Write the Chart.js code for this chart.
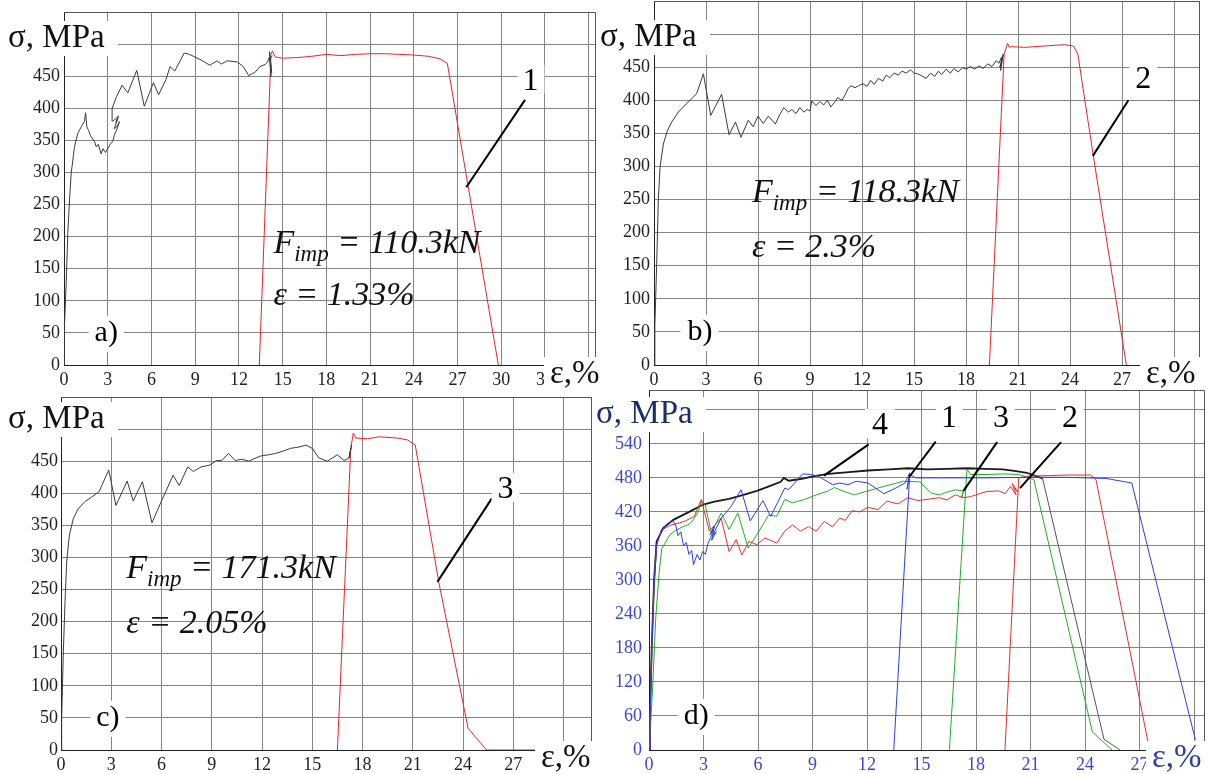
<!DOCTYPE html>
<html>
<head>
<meta charset="utf-8">
<title>stress-strain curves</title>
<script src="https://cdn.jsdelivr.net/npm/chart.js@4.4.1/dist/chart.umd.min.js"></script>
<style>
  body { margin: 0; background: #fff; }
  #wrap { position: relative; width: 1210px; height: 774px; overflow: hidden; background: #fff; }
  canvas { position: absolute; }
</style>
</head>
<body>
<div id="wrap">
  <canvas id="pa" width="600" height="390" style="left:0;top:0"></canvas>
  <canvas id="pb" width="613" height="390" style="left:597px;top:0"></canvas>
  <canvas id="pc" width="597" height="386" style="left:0;top:388px"></canvas>
  <canvas id="pd" width="613" height="386" style="left:597px;top:388px"></canvas>
</div>
<script>
var SERIF = '"Liberation Serif", "Times New Roman", serif';

// tick values
var strainTicks36 = [0, 3, 6, 9, 12, 15, 18, 21, 24, 27, 30, 33, 36];
var strainTicks30 = [0, 3, 6, 9, 12, 15, 18, 21, 24, 27, 30];
var stressTicks50 = [0, 50, 100, 150, 200, 250, 300, 350, 400, 450, 500, 550];
var stressTicks60 = [0, 60, 120, 180, 240, 300, 360, 420, 480, 540, 600];

// a) specimen 1: impact loading part (black) and re-test (red)
var aLoadX = [0, 0.03, 0.15, 0.26, 0.38, 0.49, 0.72, 0.95, 1.18, 1.41, 1.48, 1.57, 1.7, 1.82, 1.98, 2.1, 2.21, 2.35, 2.55, 2.67, 2.85, 3.0, 3.19, 3.35, 3.46, 3.57, 3.81, 3.65, 3.45, 3.7, 3.55, 3.75, 3.35, 3.3, 3.6, 3.99, 4.38, 4.99, 5.51, 6.14, 6.49, 7.0, 7.28, 7.6, 8.25, 8.6, 8.98, 9.5, 10.0, 10.5, 10.8, 11.2, 11.9, 12.3, 12.67, 13.1, 13.45, 13.8, 13.96, 14.1, 14.2, 14.1, 14.25, 14.15, 14.3];
var aLoadY = [0, 60, 127, 205, 257, 298, 340, 361, 371, 380, 393, 371, 365, 357, 352, 348, 340, 344, 329, 337, 331, 337, 345, 348, 359, 364, 379, 372, 368, 385, 378, 388, 380, 400, 418, 436, 424, 459, 403, 440, 421, 445, 465, 458, 486, 484, 480, 474, 467, 474, 469, 474, 472, 465, 451, 456, 465, 468, 472, 480, 450, 488, 455, 478, 482];
var aTestX = [13.4, 14.2, 14.3, 14.5, 15.0, 16.0, 17.0, 18.0, 19.0, 20.0, 21.0, 22.0, 23.0, 24.0, 25.0, 25.8, 26.3, 29.8];
var aTestY = [0, 484, 489, 480, 478, 479, 481, 484, 482, 484, 485, 485, 484, 483, 481, 477, 470, 0];

// b) specimen 2
var bLoadX = [0, 0.05, 0.15, 0.25, 0.35, 0.54, 0.77, 1.02, 1.4, 1.88, 2.27, 2.46, 2.85, 3.27, 3.9, 4.33, 4.7, 5.02, 5.44, 5.72, 6.0, 6.3, 6.6, 7.0, 7.25, 7.49, 7.75, 7.95, 8.2, 8.41, 8.65, 8.82, 9.0, 9.1, 9.35, 9.56, 9.8, 10.0, 10.2, 10.45, 10.6, 10.85, 11.0, 11.2, 11.36, 11.6, 11.8, 12.05, 12.3, 12.5, 12.7, 12.95, 13.2, 13.4, 13.6, 13.85, 14.1, 14.3, 14.55, 14.8, 15.0, 15.2, 15.45, 15.7, 15.95, 16.2, 16.4, 16.6, 16.85, 17.1, 17.3, 17.55, 17.8, 18.0, 18.25, 18.5, 18.75, 19.0, 19.25, 19.5, 19.75, 19.9, 20.05, 20.0, 20.15, 19.95, 20.1];
var bLoadY = [0, 60, 148, 249, 299, 334, 354, 367, 382, 395, 405, 410, 440, 377, 409, 348, 367, 344, 370, 360, 376, 365, 376, 364, 378, 389, 382, 386, 380, 389, 382, 386, 384, 399, 392, 398, 393, 400, 390, 398, 404, 400, 407, 418, 422, 419, 422, 425, 421, 430, 424, 433, 429, 438, 434, 441, 438, 444, 441, 446, 441, 440, 437, 433, 441, 436, 444, 439, 447, 441, 448, 443, 449, 447, 451, 447, 452, 448, 455, 451, 460, 456, 465, 445, 470, 450, 460];
var bTestX = [19.35, 20.2, 20.4, 20.5, 20.6, 21.4, 22.5, 23.7, 24.2, 24.45, 25.34, 27.25];
var bTestY = [0, 470, 486, 480, 481, 480, 482, 484, 482, 470, 317, 0];

// c) specimen 3
var cLoadX = [0, 0.04, 0.14, 0.24, 0.34, 0.5, 0.74, 1.03, 1.43, 1.83, 2.29, 2.43, 2.85, 3.28, 3.95, 4.31, 4.86, 5.43, 6.0, 6.69, 7.06, 7.56, 7.9, 8.36, 8.9, 9.27, 9.6, 10.0, 10.4, 10.8, 11.2, 11.9, 12.4, 12.8, 13.3, 13.7, 14.2, 14.64, 15.0, 15.4, 15.9, 16.2, 16.5, 16.9, 17.2, 17.3, 17.2, 17.35];
var cLoadY = [0, 49, 153, 231, 293, 335, 361, 376, 387, 394, 403, 412, 436, 381, 419, 388, 418, 354, 388, 428, 412, 441, 434, 441, 444, 451, 451, 462, 451, 453, 450, 458, 460, 462, 466, 470, 472, 475, 470, 455, 450, 455, 460, 451, 455, 470, 455, 475];
var cTestX = [16.5, 17.3, 17.45, 17.6, 18.3, 19.0, 20.1, 20.7, 21.15, 22.55, 24.3, 25.4, 28.4];
var cTestY = [0, 470, 494, 486, 485, 488, 486, 483, 475, 262, 34, 0, 0];

// d) all specimens together, 4 = reference specimen
var d1LoadX = [0, 0.055, 0.15, 0.28, 0.42, 0.7, 1.06, 1.3, 1.46, 1.6, 1.75, 1.9, 2.05, 2.2, 2.35, 2.45, 2.65, 2.8, 2.95, 3.1, 3.25, 3.4, 3.55, 3.35, 3.6, 3.45, 3.7, 3.5, 3.97, 4.3, 4.52, 5.07, 5.57, 6.27, 6.7, 7.47, 7.69, 8.45, 8.9, 9.32, 10.1, 10.5, 10.96, 11.4, 12.05, 12.93, 13.58, 14.1, 14.35, 14.2, 14.3];
var d1LoadY = [0, 56, 174, 291, 362, 390, 400, 404, 398, 378, 385, 360, 366, 345, 352, 327, 345, 335, 350, 345, 365, 375, 390, 380, 395, 370, 385, 378, 409, 421, 430, 459, 404, 440, 412, 462, 459, 487, 486, 483, 468, 471, 468, 474, 471, 452, 462, 471, 489, 460, 480];
var d1TestX = [13.47, 14.35, 14.67, 16.0, 18.6, 21.0, 22.97, 25.15, 26.57, 30.07];
var d1TestY = [0, 486, 480, 480, 480, 481, 481, 479, 471, 18];

var d2LoadX = [0, 0.055, 0.15, 0.28, 0.42, 0.7, 1.14, 1.6, 2.0, 2.49, 2.88, 3.32, 3.97, 4.41, 4.8, 5.11, 5.5, 5.94, 6.38, 7.03, 7.47, 7.9, 8.34, 8.78, 9.2, 9.65, 10.1, 10.5, 10.8, 11.18, 11.6, 12.05, 12.6, 13.1, 13.7, 14.24, 14.8, 15.3, 15.98, 16.4, 16.86, 17.3, 17.7, 18.2, 18.6, 19.26, 19.6, 19.9, 20.2, 20.0, 20.3, 20.1];
var d2LoadY = [0, 56, 174, 291, 362, 388, 396, 400, 404, 412, 442, 386, 409, 350, 371, 344, 368, 362, 374, 365, 386, 397, 386, 394, 386, 403, 394, 409, 405, 422, 420, 428, 424, 439, 434, 445, 440, 442, 445, 441, 450, 445, 447, 452, 456, 457, 452, 465, 450, 470, 455, 462];
var d2TestX = [19.59, 20.35, 20.8, 22.0, 22.97, 24.3, 24.6, 27.55];
var d2TestY = [0, 480, 483, 484, 485, 485, 477, 0];

var d3LoadX = [0, 0.08, 0.2, 0.37, 0.55, 0.7, 1.16, 1.5, 1.89, 2.2, 2.44, 2.7, 2.9, 3.1, 3.43, 3.97, 4.41, 4.89, 5.46, 5.94, 6.6, 7.03, 7.47, 7.9, 8.56, 9.21, 9.87, 10.2, 10.74, 11.3, 12.05, 12.93, 14.0, 14.9, 15.55, 15.98, 16.4, 16.86, 17.3, 17.2, 17.4];
var d3LoadY = [0, 40, 110, 233, 310, 355, 380, 388, 394, 398, 406, 420, 439, 432, 383, 418, 389, 418, 356, 380, 415, 412, 442, 436, 442, 450, 457, 463, 456, 450, 457, 465, 474, 473, 453, 450, 455, 459, 457, 445, 465];
var d3TestX = [16.53, 17.5, 17.7, 18.6, 19.5, 20.35, 21.18, 24.4, 25.48];
var d3TestY = [0, 495, 486, 486, 487, 486, 477, 32, 0];

var d4X = [0, 0.055, 0.15, 0.28, 0.42, 0.79, 1.34, 2.26, 2.99, 3.6, 4.41, 5.2, 5.94, 6.6, 7.25, 7.42, 7.69, 8.34, 9.1, 9.87, 11.0, 12.05, 13.2, 14.24, 15.33, 16.4, 17.5, 18.5, 19.48, 20.2, 20.79, 21.66];
var d4Y = [0, 60, 180, 300, 368, 392, 406, 421, 433, 438, 443, 450, 457, 465, 473, 480, 475, 478, 483, 487, 490, 493, 495, 497, 495, 496, 497, 496, 495, 492, 489, 479];
var d4DropX = [21.66, 25.04, 25.92];
var d4DropY = [479, 19, 0];

var BLACK = '#3a3a3a', RED = '#e3262b';
var BLUE = '#2b3fe0', GREEN = '#1fae22', RED2 = '#e0302c', BLACK2 = '#1a1a1a';

function pts(xs, ys) {
    var out = [];
    for (var i = 0; i < xs.length; i++) out.push({x: xs[i], y: ys[i]});
    return out;
}

function boxed(c, txt, x, y, font, color, align, base, padR) {
    c.font = font;
    c.textAlign = align;
    c.textBaseline = base;
    var m = c.measureText(txt);
    var l = x - m.actualBoundingBoxLeft, r = x + m.actualBoundingBoxRight;
    var t = y - m.actualBoundingBoxAscent, b = y + m.actualBoundingBoxDescent;
    c.fillStyle = '#fff';
    c.fillRect(l - 7, t - 4, r - l + 14 + (padR || 0), b - t + 8);
    c.fillStyle = color;
    c.fillText(txt, x, y);
}

function drawImp(c, x, y, y2, force, eps) {
    c.fillStyle = '#111';
    c.textAlign = 'left';
    c.textBaseline = 'alphabetic';
    c.font = 'italic 34px ' + SERIF;
    c.fillText('F', x, y);
    var w = c.measureText('F').width;
    c.font = 'italic 23px ' + SERIF;
    c.fillText('imp', x + w, y + 8);
    w += c.measureText('imp').width;
    c.font = 'italic 34px ' + SERIF;
    c.fillText(' = ' + force, x + w, y);
    c.fillText('\u03b5 = ' + eps, x, y2);
}

function notesPlugin(p) {
    return {
        id: 'notes_' + p.id,
        afterDraw: function(chart) {
            var c = chart.ctx, sx = chart.scales.x, sy = chart.scales.y, area = chart.chartArea;
            var px = function(v) { return sx.getPixelForValue(v); };
            var py = function(v) { return sy.getPixelForValue(v); };
            c.save();
            // top / right frame
            c.strokeStyle = '#555';
            c.lineWidth = 1;
            c.beginPath();
            c.moveTo(area.left, Math.round(area.top) + 0.5);
            c.lineTo(Math.round(area.right) - 0.5, Math.round(area.top) + 0.5);
            c.lineTo(Math.round(area.right) - 0.5, area.bottom);
            c.stroke();
            // leader lines to the curves
            c.strokeStyle = '#000';
            c.lineWidth = 2;
            p.leaders.forEach(function(l) {
                c.beginPath();
                c.moveTo(px(l[0]), py(l[1]));
                c.lineTo(px(l[2]), py(l[3]));
                c.stroke();
            });
            p.tags.forEach(function(t) {
                boxed(c, t.t, px(t.x), py(t.y), '32px ' + SERIF, '#000', 'center', 'middle');
            });
            boxed(c, p.letter.t, px(p.letter.x), py(p.letter.y), '30px ' + SERIF, '#000', 'center', 'middle');
            boxed(c, '\u03c3, MPa', p.sigma[0], p.sigma[1], '33px ' + SERIF, p.sigmaColor, 'left', 'alphabetic', 6);
            boxed(c, '\u03b5,%', p.eps[0], p.eps[1], '33px ' + SERIF, p.epsColor, 'left', 'alphabetic');
            if (p.imp) {
                drawImp(c, px(p.imp.x), py(p.imp.y), py(p.imp.y2), p.imp.force, p.imp.eps);
            }
            c.restore();
        }
    };
}

function makePanel(p) {
    var ctx = document.getElementById(p.id).getContext('2d');
    var datasets = p.series.map(function(s) {
        return {
            data: pts(s.x, s.y),
            borderColor: s.color,
            borderWidth: s.width || 1,
            showLine: true,
            pointRadius: 0,
            tension: 0,
            fill: false
        };
    });
    return new Chart(ctx, {
        type: 'scatter',
        data: { datasets: datasets },
        options: {
            responsive: false,
            animation: false,
            devicePixelRatio: 1,
            layout: { padding: { left: 0, top: p.top, right: p.right, bottom: 0 } },
            plugins: { legend: { display: false }, tooltip: { enabled: false } },
            scales: {
                x: {
                    type: 'linear',
                    min: 0,
                    max: p.xmax,
                    border: { display: true, color: '#222', width: 1 },
                    grid: { color: '#858585', drawTicks: false },
                    ticks: {
                        padding: 4,
                        color: p.tickColor,
                        font: { family: SERIF, size: 18 },
                        autoSkip: false,
                        maxRotation: 0,
                        callback: function(v) { return v <= p.xLabelMax ? String(v) : ''; }
                    },
                    afterBuildTicks: function(s) { s.ticks = p.xTicks.map(function(v) { return {value: v}; }); },
                    afterFit: function(s) { s.height = p.xh; s.paddingLeft = 0; s.paddingRight = 0; }
                },
                y: {
                    type: 'linear',
                    min: 0,
                    max: p.ymax,
                    border: { display: true, color: '#222', width: 1 },
                    grid: { color: '#858585', drawTicks: false },
                    ticks: {
                        padding: p.ypad,
                        color: p.tickColor,
                        font: { family: SERIF, size: 18 },
                        autoSkip: false,
                        callback: function(v) { return v <= p.yLabelMax ? String(v) : ''; }
                    },
                    afterBuildTicks: function(s) { s.ticks = p.yTicks.map(function(v) { return {value: v}; }); },
                    afterFit: function(s) { s.width = p.yw; s.paddingTop = 0; s.paddingBottom = 0; }
                }
            }
        },
        plugins: [notesPlugin(p)]
    });
}

makePanel({
    id: 'pa', xmax: 36.5, ymax: 550, xTicks: strainTicks36, yTicks: stressTicks50,
    xLabelMax: 33, yLabelMax: 450, top: 12, right: 4, yw: 64, xh: 25, ypad: 4, tickColor: '#222',
    series: [
        { x: aLoadX, y: aLoadY, color: BLACK },
        { x: aTestX, y: aTestY, color: RED }
    ],
    leaders: [[31.63, 413, 27.6, 277]],
    tags: [{ t: '1', x: 32.0, y: 442 }],
    letter: { t: 'a)', x: 2.9, y: 50 },
    sigma: [8, 47], sigmaColor: '#111',
    eps: [550, 383], epsColor: '#111',
    imp: { x: 14.37, y: 174, y2: 93, force: '110.3kN', eps: '1.33%' }
});

makePanel({
    id: 'pb', xmax: 31.5, ymax: 550, xTicks: strainTicks30, yTicks: stressTicks50,
    xLabelMax: 27, yLabelMax: 450, top: 1, right: 10, yw: 57, xh: 25, ypad: 4, tickColor: '#222',
    series: [
        { x: bLoadX, y: bLoadY, color: BLACK },
        { x: bTestX, y: bTestY, color: RED }
    ],
    leaders: [[27.37, 400, 25.32, 316]],
    tags: [{ t: '2', x: 28.22, y: 432 }],
    letter: { t: 'b)', x: 2.65, y: 50 },
    sigma: [3, 46], sigmaColor: '#111',
    eps: [549, 383], epsColor: '#111',
    imp: { x: 5.65, y: 246, y2: 163, force: '118.3kN', eps: '2.3%' }
});

makePanel({
    id: 'pc', xmax: 31.7, ymax: 550, xTicks: strainTicks30, yTicks: stressTicks50,
    xLabelMax: 27, yLabelMax: 450, top: 9, right: 5, yw: 61, xh: 24, ypad: 3, tickColor: '#222',
    series: [
        { x: cLoadX, y: cLoadY, color: BLACK },
        { x: cTestX, y: cTestY, color: RED }
    ],
    leaders: [[25.72, 392, 22.47, 262]],
    tags: [{ t: '3', x: 26.54, y: 406 }],
    letter: { t: 'c)', x: 2.8, y: 50 },
    sigma: [8, 40], sigmaColor: '#111',
    eps: [541, 379], epsColor: '#111',
    imp: { x: 3.9, y: 268, y2: 182, force: '171.3kN', eps: '2.05%' }
});

makePanel({
    id: 'pd', xmax: 30.6, ymax: 635, xTicks: strainTicks30, yTicks: stressTicks60,
    xLabelMax: 27, yLabelMax: 540, top: 2, right: 5, yw: 52, xh: 24, ypad: 7, tickColor: '#3c46d2',
    series: [
        { x: d1LoadX, y: d1LoadY, color: BLUE },
        { x: d1TestX, y: d1TestY, color: BLUE },
        { x: d2LoadX, y: d2LoadY, color: RED2 },
        { x: d2TestX, y: d2TestY, color: RED2 },
        { x: d3LoadX, y: d3LoadY, color: GREEN },
        { x: d3TestX, y: d3TestY, color: GREEN },
        { x: d4DropX, y: d4DropY, color: '#555' },
        { x: d4X, y: d4Y, color: BLACK2, width: 1.8 }
    ],
    leaders: [[12.09, 539, 9.63, 484], [15.78, 544, 14.33, 482], [19.16, 543, 17.31, 457], [22.68, 543, 20.42, 462]],
    tags: [{ t: '4', x: 12.71, y: 572 }, { t: '1', x: 16.51, y: 584 }, { t: '3', x: 19.37, y: 584 }, { t: '2', x: 23.17, y: 584 }],
    letter: { t: 'd)', x: 2.6, y: 60 },
    sigma: [-1, 35], sigmaColor: '#18306a',
    eps: [555, 379], epsColor: '#2a3fa6',
    imp: null
});
</script>
</body>
</html>
